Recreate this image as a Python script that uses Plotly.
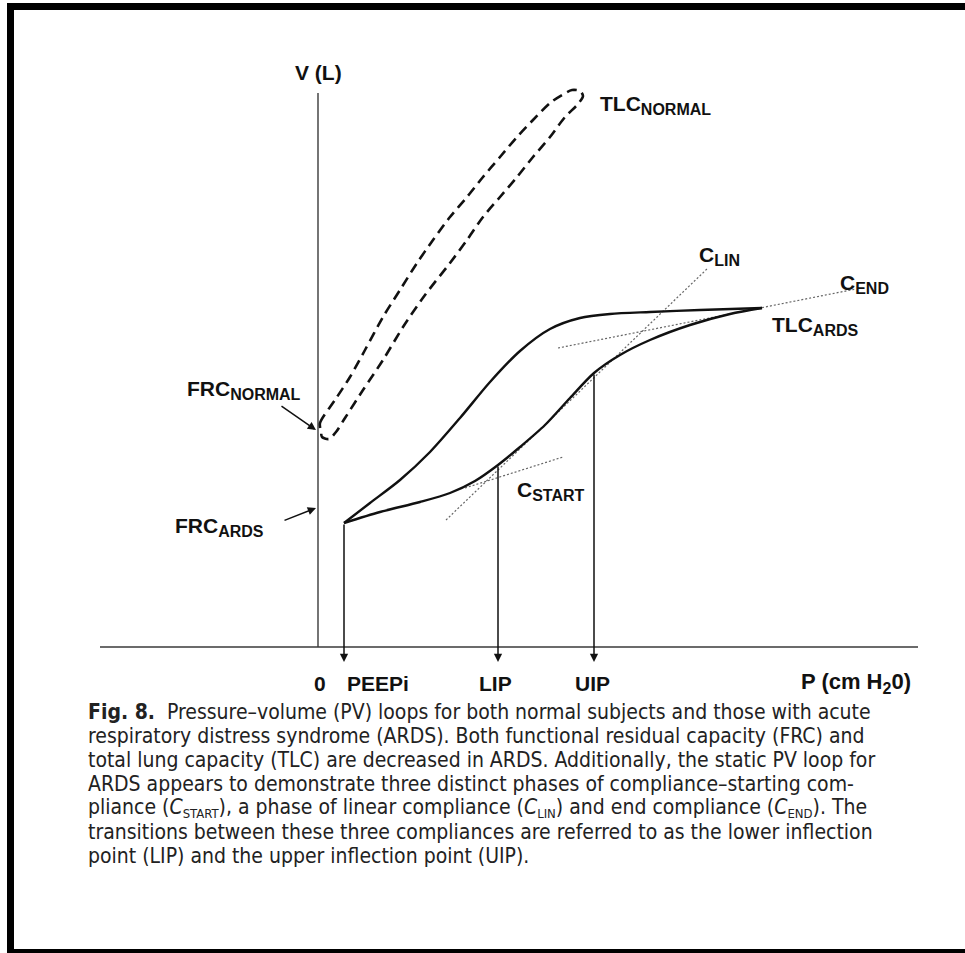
import plotly.graph_objects as go

# ---- diagram data (P in arbitrary pressure units, V in arbitrary volume units) ----
axis_x_P = [-21.8, 60.0]
axis_y_V = [0.0, 55.4]

# ARDS loop: deflation (upper) and inflation (lower) limbs
ards_defl_P = [2.6, 5.2, 8.2, 11.2, 14.2, 17.2, 20.2, 23.2, 26.2, 29.2, 33.2, 38.2, 44.4]
ards_defl_V = [12.4, 14.4, 16.7, 19.5, 22.9, 26.5, 29.6, 31.8, 32.9, 33.3, 33.5, 33.7, 33.9]
ards_infl_P = [2.6, 6.2, 10.2, 13.2, 15.7, 18.0, 20.2, 22.7, 25.2, 27.6, 30.2, 33.2, 37.2, 41.2, 44.4]
ards_infl_V = [12.4, 13.5, 14.5, 15.4, 16.6, 18.2, 20.0, 22.2, 24.9, 27.4, 29.2, 30.7, 32.2, 33.3, 33.9]

# Normal loop (closed, dashed)
norm_P = [0.3, 0.2, 1.7, 3.2, 4.7, 6.5, 8.2, 9.9, 11.5, 13.2, 14.9, 16.5, 18.2, 19.9,
          21.5, 23.2, 24.4, 25.4, 26.2, 26.5, 26.0, 24.7, 23.2, 21.5, 19.9, 18.2, 16.5,
          14.9, 13.2, 10.7, 8.5, 6.5, 4.5, 2.7, 1.8, 1.1, 0.4, 0.3]
norm_V = [21.5, 22.4, 24.7, 27.0, 29.7, 33.0, 35.7, 38.4, 40.7, 43.0, 45.0, 47.0, 49.0, 51.0,
          52.7, 54.4, 55.2, 55.7, 55.6, 55.1, 54.3, 53.0, 51.0, 49.0, 47.0, 45.0, 43.0,
          40.7, 38.4, 35.2, 32.0, 28.7, 25.7, 22.9, 21.5, 20.8, 21.0, 21.5]

# tangent (compliance) lines
c_lin_P = [12.8, 39.0]
c_lin_V = [12.7, 37.9]
c_start_P = [14.7, 24.5]
c_start_V = [15.9, 19.0]
c_end_P = [24.0, 53.8]
c_end_V = [29.9, 35.8]

# inflection / pressure markers
marker_names = ["PEEPi", "LIP", "UIP"]
marker_P = [2.6, 18.0, 27.6]
marker_V = [12.4, 18.2, 27.4]
marker_label_P = [2.7, 17.7, 27.4]
marker_label_anchor = ["left", "center", "center"]
arrow_tip_V = -1.5


def sub(s, px=16):
    return "<sub><span style='font-size:%dpx'>%s</span></sub>" % (px, s)


def csub(s):
    return "<i>C</i>" + sub(s, 13)


caption_lines = [
    "<b>Fig. 8.</b>  Pressure–volume (PV) loops for both normal subjects and those with acute",
    "respiratory distress syndrome (ARDS). Both functional residual capacity (FRC) and",
    "total lung capacity (TLC) are decreased in ARDS. Additionally, the static PV loop for",
    "ARDS appears to demonstrate three distinct phases of compliance–starting com-",
    "pliance (%s), a phase of linear compliance (%s) and end compliance (%s). The"
    % (csub("START"), csub("LIN"), csub("END")),
    "transitions between these three compliances are referred to as the lower inflection",
    "point (LIP) and the upper inflection point (UIP).",
]

W, H = 965, 953
LBL = dict(family="Liberation Sans, Arial, sans-serif", size=21, color="#111")

fig = go.Figure()
axis_col = "#3a3a3a"
fig.add_trace(go.Scatter(x=axis_x_P, y=[0, 0], mode="lines", line=dict(color=axis_col, width=1.6)))
fig.add_trace(go.Scatter(x=[0, 0], y=axis_y_V, mode="lines", line=dict(color=axis_col, width=1.4)))

dot = dict(color="#666", width=1.2, dash="2px,2px")
fig.add_trace(go.Scatter(x=c_lin_P, y=c_lin_V, mode="lines", line=dot))
fig.add_trace(go.Scatter(x=c_start_P, y=c_start_V, mode="lines", line=dot))
fig.add_trace(go.Scatter(x=c_end_P, y=c_end_V, mode="lines", line=dot))

fig.add_trace(go.Scatter(x=norm_P, y=norm_V, mode="lines",
                         line=dict(color="#111", width=2.6, dash="10px,6px", shape="spline", smoothing=0.8)))
fig.add_trace(go.Scatter(x=ards_defl_P, y=ards_defl_V, mode="lines",
                         line=dict(color="#111", width=2.4, shape="spline", smoothing=0.8)))
fig.add_trace(go.Scatter(x=ards_infl_P, y=ards_infl_V, mode="lines",
                         line=dict(color="#111", width=2.4, shape="spline", smoothing=0.8)))

ann = []
# vertical arrows down to the P axis
for name, p, v, lp, anc in zip(marker_names, marker_P, marker_V, marker_label_P, marker_label_anchor):
    ann.append(dict(x=p, y=arrow_tip_V, ax=p, ay=v, xref="x", yref="y", axref="x", ayref="y",
                    text="", showarrow=True, arrowhead=2, arrowsize=1.1, arrowwidth=1.5,
                    arrowcolor="#111", standoff=0, startstandoff=0))
    ann.append(dict(x=lp, y=-3.6, xref="x", yref="y", text="<b>%s</b>" % name, showarrow=False,
                    font=LBL, xanchor=anc, yanchor="middle"))
ann.append(dict(x=0.2, y=-3.6, xref="x", yref="y", text="<b>0</b>", showarrow=False,
                font=LBL, xanchor="center", yanchor="middle"))
ann.append(dict(x=53.8, y=-3.6, xref="x", yref="y", text="<b>P (cm H%s0)</b>" % sub("2"), showarrow=False,
                font=dict(LBL, size=22), xanchor="center", yanchor="middle"))
ann.append(dict(x=0, y=57.5, xref="x", yref="y", text="<b>V (L)</b>", showarrow=False,
                font=LBL, xanchor="center", yanchor="middle"))

labels = [
    (28.0, 54.2, "TLC" + sub("NORMAL")),
    (-13.3, 25.7, "FRC" + sub("NORMAL")),
    (-14.5, 12.0, "FRC" + sub("ARDS")),
    (37.9, 39.1, "C" + sub("LIN")),
    (52.0, 36.3, "C" + sub("END")),
    (45.2, 32.1, "TLC" + sub("ARDS")),
    (19.7, 15.6, "C" + sub("START")),
]
for x, y, t in labels:
    ann.append(dict(x=x, y=y, xref="x", yref="y", text="<b>%s</b>" % t, showarrow=False,
                    font=LBL, xanchor="left", yanchor="middle"))

# FRC pointer arrows
ann.append(dict(x=-0.2, y=21.7, ax=-3.8, ay=24.2, xref="x", yref="y", axref="x", ayref="y",
                text="", showarrow=True, arrowhead=2, arrowsize=1.1, arrowwidth=1.5, arrowcolor="#111",
                standoff=0))
ann.append(dict(x=-0.2, y=13.9, ax=-3.5, ay=12.6, xref="x", yref="y", axref="x", ayref="y",
                text="", showarrow=True, arrowhead=2, arrowsize=1.1, arrowwidth=1.5, arrowcolor="#111",
                standoff=0))

# caption
CAP = dict(family="DejaVu Sans Condensed, Liberation Sans, sans-serif", size=21, color="#222")
for i, line in enumerate(caption_lines):
    ann.append(dict(x=86 / W, y=1 - (712 + 24 * i) / H, xref="paper", yref="paper", text=line,
                    showarrow=False, font=CAP, xanchor="left", yanchor="middle", align="left"))

# page frame
shapes = [
    dict(type="rect", xref="paper", yref="paper", x0=7 / W, x1=1, y0=1 - 10 / H, y1=1 - 3 / H,
         fillcolor="black", line=dict(width=0)),
    dict(type="rect", xref="paper", yref="paper", x0=7 / W, x1=14 / W, y0=0, y1=1 - 3 / H,
         fillcolor="black", line=dict(width=0)),
    dict(type="rect", xref="paper", yref="paper", x0=7 / W, x1=1, y0=0, y1=1 - 949 / H,
         fillcolor="black", line=dict(width=0)),
]

fig.update_layout(
    width=W, height=H, margin=dict(l=0, r=0, t=0, b=0),
    paper_bgcolor="white", plot_bgcolor="white", showlegend=False,
    xaxis=dict(range=[-31.8, 64.7], visible=False, fixedrange=True),
    yaxis=dict(range=[-30.6, 64.7], visible=False, fixedrange=True),
    annotations=ann, shapes=shapes,
)
fig.write_html("out.html", config={"displayModeBar": False},
               post_script="document.body.style.margin='0px';")
